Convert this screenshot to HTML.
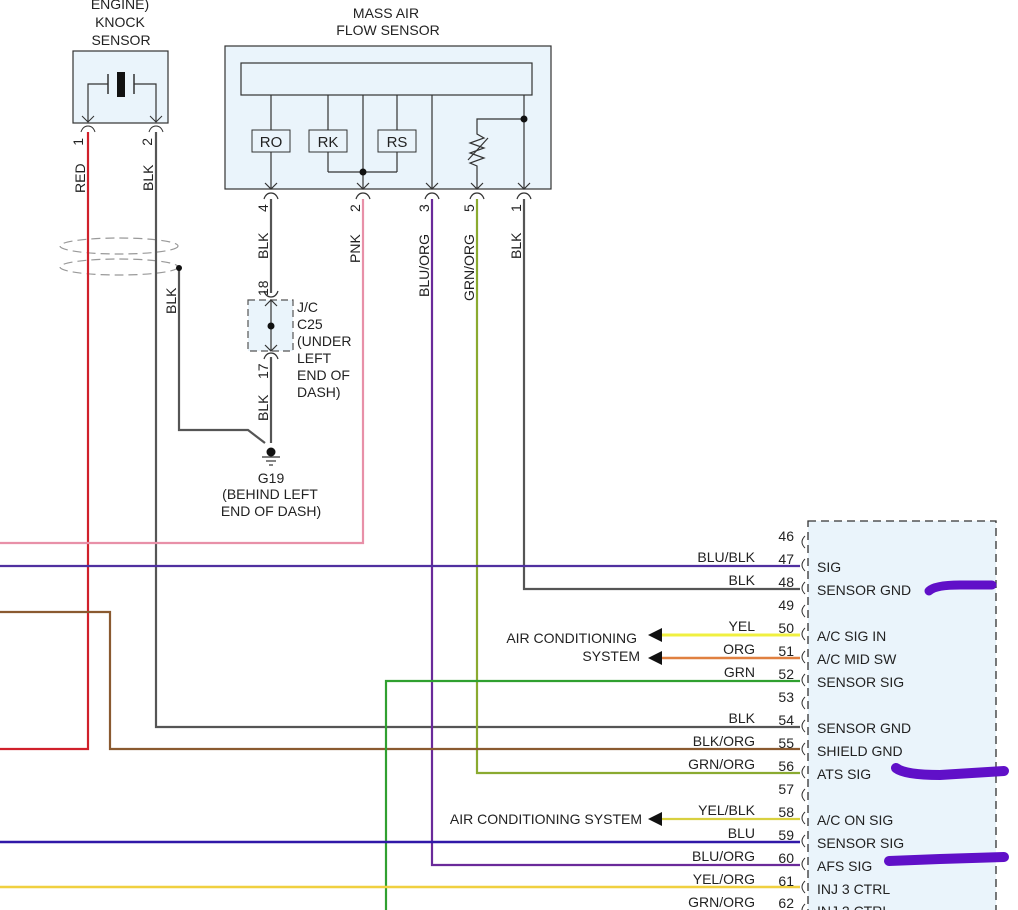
<!DOCTYPE html>
<html><head><style>
html,body{margin:0;padding:0;background:#fff;}
svg{display:block;}
text{font-family:"Liberation Sans",sans-serif;font-size:14px;fill:#222;}
</style></head><body>
<svg width="1018" height="910" viewBox="0 0 1018 910" xmlns="http://www.w3.org/2000/svg">
<!-- connector box -->
<rect x="808" y="521" width="188" height="400" fill="#eaf4fb" stroke="#333" stroke-width="1.3" stroke-dasharray="8,5"/>

<!-- Knock sensor -->
<text x="120" y="9" text-anchor="middle">ENGINE)</text>
<text x="120" y="27" text-anchor="middle">KNOCK</text>
<text x="121" y="45" text-anchor="middle">SENSOR</text>
<rect x="73" y="51" width="95" height="72" fill="#eaf4fb" stroke="#333" stroke-width="1.2"/>
<rect x="117" y="72" width="8" height="25" fill="#111"/>
<line x1="108" y1="74" x2="108" y2="94" stroke="#333" stroke-width="1.5"/>
<line x1="134" y1="74" x2="134" y2="94" stroke="#333" stroke-width="1.5"/>
<polyline points="108,84 88,84 88,122" fill="none" stroke="#333" stroke-width="1.2"/>
<polyline points="134,84 156,84 156,122" fill="none" stroke="#333" stroke-width="1.2"/>
<polyline points="82,116 88,122 94,116" fill="none" stroke="#333"/>
<polyline points="150,116 156,122 162,116" fill="none" stroke="#333"/>
<path d="M81,132 Q83,126 88,126 Q93,126 95,132" fill="none" stroke="#333"/>
<path d="M149,132 Q151,126 156,126 Q161,126 163,132" fill="none" stroke="#333"/>
<text transform="translate(83,138) rotate(-90)" text-anchor="end">1</text>
<text transform="translate(152,138) rotate(-90)" text-anchor="end">2</text>
<text transform="translate(85,193) rotate(-90)">RED</text>
<text transform="translate(153,191) rotate(-90)">BLK</text>

<!-- MAF -->
<text x="386" y="18" text-anchor="middle">MASS AIR</text>
<text x="388" y="35" text-anchor="middle">FLOW SENSOR</text>
<rect x="225" y="46" width="326" height="143" fill="#eaf4fb" stroke="#333" stroke-width="1.2"/>
<rect x="241" y="63" width="291" height="32" fill="#eaf4fb" stroke="#333" stroke-width="1.2"/>
<g stroke="#333" stroke-width="1.2" fill="none">
<line x1="271" y1="95" x2="271" y2="189"/>
<line x1="328" y1="95" x2="328" y2="172"/>
<line x1="363" y1="95" x2="363" y2="189"/>
<line x1="397" y1="95" x2="397" y2="172"/>
<line x1="328" y1="172" x2="397" y2="172"/>
<line x1="432" y1="95" x2="432" y2="189"/>
<line x1="524" y1="95" x2="524" y2="189"/>
<polyline points="524,119 477,119 477,134 484,138 470,143 484,148 470,153 484,158 470,163 477,166 477,189"/>
<line x1="468" y1="160" x2="488" y2="138"/>
<polyline points="265,183 271,189 277,183"/>
<polyline points="357,183 363,189 369,183"/>
<polyline points="426,183 432,189 438,183"/>
<polyline points="471,183 477,189 483,183"/>
<polyline points="518,183 524,189 530,183"/>
<path d="M264,199 Q266,193 271,193 Q276,193 278,199"/>
<path d="M356,199 Q358,193 363,193 Q368,193 370,199"/>
<path d="M425,199 Q427,193 432,193 Q437,193 439,199"/>
<path d="M470,199 Q472,193 477,193 Q482,193 484,199"/>
<path d="M517,199 Q519,193 524,193 Q529,193 531,199"/>
</g>
<circle cx="363" cy="172" r="3.5" fill="#111"/>
<circle cx="524" cy="119" r="3.5" fill="#111"/>
<rect x="252" y="130" width="38" height="22" fill="#eaf4fb" stroke="#333"/>
<rect x="309" y="130" width="38" height="22" fill="#eaf4fb" stroke="#333"/>
<rect x="378" y="130" width="38" height="22" fill="#eaf4fb" stroke="#333"/>
<text x="271" y="147" text-anchor="middle" style="font-size:15px">RO</text>
<text x="328" y="147" text-anchor="middle" style="font-size:15px">RK</text>
<text x="397" y="147" text-anchor="middle" style="font-size:15px">RS</text>
<text transform="translate(268,212) rotate(-90)">4</text>
<text transform="translate(360,212) rotate(-90)">2</text>
<text transform="translate(429,212) rotate(-90)">3</text>
<text transform="translate(474,212) rotate(-90)">5</text>
<text transform="translate(521,212) rotate(-90)">1</text>
<text transform="translate(268,259) rotate(-90)">BLK</text>
<text transform="translate(360,263) rotate(-90)">PNK</text>
<text transform="translate(429,297) rotate(-90)">BLU/ORG</text>
<text transform="translate(474,301) rotate(-90)">GRN/ORG</text>
<text transform="translate(521,259) rotate(-90)">BLK</text>

<!-- shield -->
<g fill="none" stroke="#999" stroke-width="1.2" stroke-dasharray="9,5">
<ellipse cx="119" cy="246" rx="59" ry="8"/>
<ellipse cx="119" cy="267" rx="59" ry="8"/>
</g>

<!-- wires -->
<g fill="none" stroke-width="2.2">
<polyline points="88,132 88,749 0,749" stroke="#d0202a"/>
<polyline points="156,132 156,727 800,727" stroke="#555"/>
<polyline points="179,268 179,430 248,430 265,443" stroke="#555"/>
<polyline points="271,199 271,293" stroke="#555"/>
<polyline points="271,357 271,443" stroke="#555"/>
<polyline points="363,199 363,543 0,543" stroke="#e890a8"/>
<polyline points="432,199 432,865 800,865" stroke="#6a2a9a"/>
<polyline points="477,199 477,773 800,773" stroke="#8aaa30"/>
<polyline points="524,199 524,589 800,589" stroke="#555"/>
<polyline points="0,566 800,566" stroke="#5030a0"/>
<polyline points="0,612 110,612 110,749 800,749" stroke="#8a5a30"/>
<polyline points="386,910 386,681 800,681" stroke="#30a030"/>
<polyline points="660,635 800,635" stroke="#f0f040" stroke-width="3"/>
<polyline points="660,658 800,658" stroke="#e08040" stroke-width="2.5"/>
<polyline points="660,819 800,819" stroke="#d8d040"/>
<polyline points="0,842 800,842" stroke="#3018a8" stroke-width="2.6"/>
<polyline points="0,887 800,887" stroke="#f0d040" stroke-width="2.6"/>
</g>
<circle cx="179" cy="268" r="3" fill="#111"/>

<!-- J/C -->
<rect x="248" y="300" width="45" height="51" fill="#eaf4fb" stroke="#555" stroke-width="1.2" stroke-dasharray="7,4"/>
<g stroke="#333" stroke-width="1.2" fill="none">
<line x1="271" y1="300" x2="271" y2="351"/>
<polyline points="265,306 271,300 277,306"/>
<polyline points="265,345 271,351 277,345"/>
<path d="M264,291 Q266,297 271,297 Q276,297 278,291"/>
<path d="M264,359 Q266,353 271,353 Q276,353 278,359"/>
</g>
<circle cx="271" cy="326" r="3.5" fill="#111"/>
<text transform="translate(268,296) rotate(-90)">18</text>
<text transform="translate(268,379) rotate(-90)">17</text>
<text transform="translate(268,421) rotate(-90)">BLK</text>
<text transform="translate(176,314) rotate(-90)">BLK</text>
<text x="297" y="312">J/C</text>
<text x="297" y="329">C25</text>
<text x="297" y="346">(UNDER</text>
<text x="297" y="363">LEFT</text>
<text x="297" y="380">END OF</text>
<text x="297" y="397">DASH)</text>
<!-- ground -->
<circle cx="271" cy="452" r="4.5" fill="#111"/>
<line x1="262" y1="457" x2="280" y2="457" stroke="#333" stroke-width="1.2"/>
<line x1="266" y1="461" x2="276" y2="461" stroke="#333" stroke-width="1.2"/>
<line x1="269" y1="465" x2="273" y2="465" stroke="#333" stroke-width="1.2"/>
<text x="271" y="483" text-anchor="middle">G19</text>
<text x="270" y="499" text-anchor="middle">(BEHIND LEFT</text>
<text x="271" y="516" text-anchor="middle">END OF DASH)</text>

<!-- arrows -->
<polygon points="648,635 662,628 662,642" fill="#111"/>
<polygon points="648,658 662,651 662,665" fill="#111"/>
<polygon points="648,819 662,812 662,826" fill="#111"/>
<text x="637" y="643" text-anchor="end">AIR CONDITIONING</text>
<text x="640" y="661" text-anchor="end">SYSTEM</text>
<text x="642" y="824" text-anchor="end">AIR CONDITIONING SYSTEM</text>

<!-- pin numbers, caps, wire labels -->
<g text-anchor="end">
<text x="794" y="541">46</text><text x="794" y="564">47</text><text x="794" y="587">48</text><text x="794" y="610">49</text>
<text x="794" y="633">50</text><text x="794" y="656">51</text><text x="794" y="679">52</text><text x="794" y="702">53</text>
<text x="794" y="725">54</text><text x="794" y="748">55</text><text x="794" y="771">56</text><text x="794" y="794">57</text>
<text x="794" y="817">58</text><text x="794" y="840">59</text><text x="794" y="863">60</text><text x="794" y="886">61</text>
<text x="794" y="908">62</text>
<text x="755" y="562">BLU/BLK</text><text x="755" y="585">BLK</text><text x="755" y="631">YEL</text><text x="755" y="654">ORG</text>
<text x="755" y="677">GRN</text><text x="755" y="723">BLK</text><text x="755" y="746">BLK/ORG</text><text x="755" y="769">GRN/ORG</text>
<text x="755" y="815">YEL/BLK</text><text x="755" y="838">BLU</text><text x="755" y="861">BLU/ORG</text><text x="755" y="884">YEL/ORG</text>
<text x="755" y="907">GRN/ORG</text>
</g>
<g fill="none" stroke="#333" stroke-width="1">
<path d="M805,536 Q799,542 805,548"/><path d="M805,559 Q799,565 805,571"/><path d="M805,582 Q799,588 805,594"/>
<path d="M805,605 Q799,611 805,617"/><path d="M805,628 Q799,634 805,640"/><path d="M805,651 Q799,657 805,663"/>
<path d="M805,674 Q799,680 805,686"/><path d="M805,697 Q799,703 805,709"/><path d="M805,720 Q799,726 805,732"/>
<path d="M805,743 Q799,749 805,755"/><path d="M805,766 Q799,772 805,778"/><path d="M805,789 Q799,795 805,801"/>
<path d="M805,812 Q799,818 805,824"/><path d="M805,835 Q799,841 805,847"/><path d="M805,858 Q799,864 805,870"/>
<path d="M805,881 Q799,887 805,893"/><path d="M805,904 Q799,910 805,916"/>
</g>
<g>
<text x="817" y="572">SIG</text><text x="817" y="595">SENSOR GND</text><text x="817" y="641">A/C SIG IN</text>
<text x="817" y="664">A/C MID SW</text><text x="817" y="687">SENSOR SIG</text><text x="817" y="733">SENSOR GND</text>
<text x="817" y="756">SHIELD GND</text><text x="817" y="779">ATS SIG</text><text x="817" y="825">A/C ON SIG</text>
<text x="817" y="848">SENSOR SIG</text><text x="817" y="871">AFS SIG</text><text x="817" y="894">INJ 3 CTRL</text>
<text x="817" y="916">INJ 2 CTRL</text>
</g>
<!-- purple marker strokes -->
<g fill="none" stroke="#6010c8" stroke-linecap="round">
<path d="M929,591 Q935,585 960,585 L992,585" stroke-width="9"/>
<path d="M896,768 Q905,775 940,775 L1004,771" stroke-width="10"/>
<path d="M889,861 L940,859 L1004,857" stroke-width="10"/>
</g>
</svg>
</body></html>
